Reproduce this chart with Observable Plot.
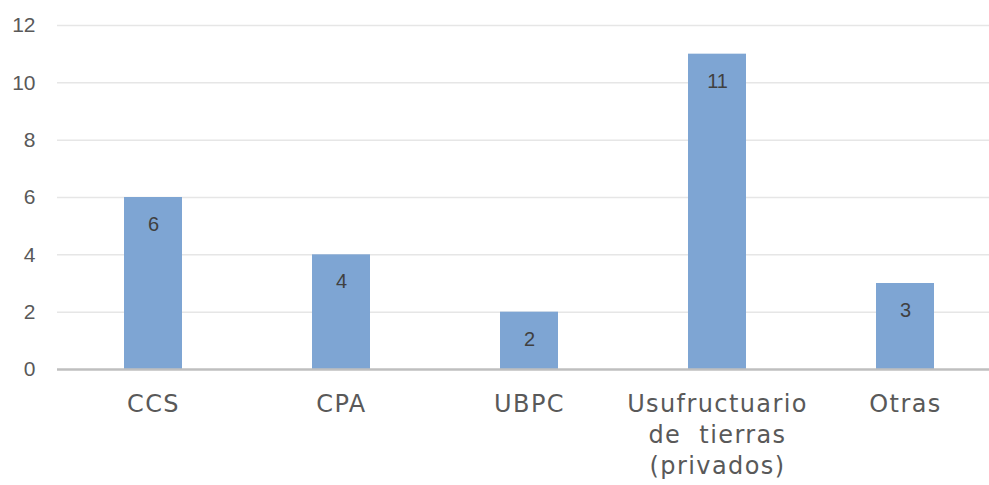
<!DOCTYPE html>
<html>
<head>
<meta charset="utf-8">
<script src="https://cdn.jsdelivr.net/npm/d3@7"></script>
<script src="https://cdn.jsdelivr.net/npm/@observablehq/plot@0.6"></script>
<style>
  html, body { margin: 0; padding: 0; background: #fff; }
  #chart svg { display: block; }
  #chart g[aria-label="x-axis tick label"] text { letter-spacing: 1.4px; }
</style>
</head>
<body>
<div id="chart"></div>
<script>
const categories = ["CCS", "CPA", "UBPC", "Usufructuario\nde  tierras\n(privados)", "Otras"];
const values = [6, 4, 2, 11, 3];
const yTicks = [0, 2, 4, 6, 8, 10, 12];

const data = categories.map((c, i) => ({cat: c, value: values[i]}));

const chart = Plot.plot({
  width: 989,
  height: 485,
  marginLeft: 57,
  marginRight: 0,
  marginTop: 25,
  marginBottom: 116,
  style: {background: "#fff", overflow: "visible"},
  x: {domain: categories, range: [57.5, 1000], paddingInner: 0.692, paddingOuter: 0.346, label: null},
  y: {domain: [0, 12], range: [369, 25], label: null},
  marks: [
    Plot.ruleY(yTicks.filter(d => d > 0), {stroke: "#e6e6e6", strokeWidth: 1.5}),
    Plot.barY(data, {x: "cat", y: "value", fill: "#7ea5d3"}),
    Plot.ruleY([0], {stroke: "#bfbfbf", strokeWidth: 2.5}),
    Plot.text(data, {x: "cat", y: "value", text: d => String(d.value), dy: 27,
      fill: "#404040", fontSize: 20, fontFamily: "Liberation Sans, Arial, sans-serif"}),
    Plot.axisY({ticks: yTicks, tickSize: 0, tickPadding: 22, fontSize: 21,
      fontFamily: "Liberation Sans, Arial, sans-serif", fill: "#595959", label: null}),
    Plot.axisX({tickSize: 0, tickPadding: 20, fontSize: 24, lineHeight: 1.3,
      fontFamily: "DejaVu Sans, Verdana, sans-serif", fill: "#595959", label: null})
  ]
});
document.getElementById("chart").appendChild(chart);
</script>
</body>
</html>
